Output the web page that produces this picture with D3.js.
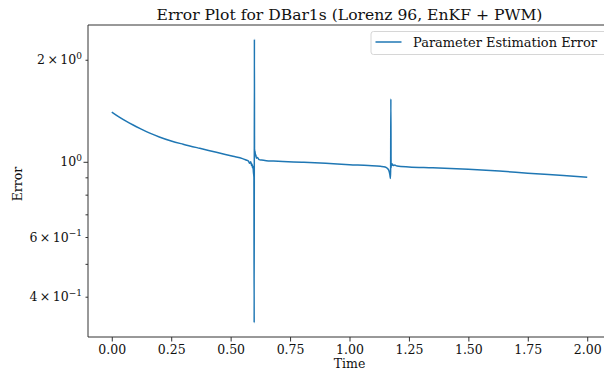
<!DOCTYPE html>
<html>
<head>
<meta charset="utf-8">
<script src="https://cdn.jsdelivr.net/npm/d3@7"></script>
<style>
  html, body { margin: 0; padding: 0; background: #fff; overflow: hidden; }
  svg { display: block; }
  text { font-family: "DejaVu Serif", serif; fill: #111; }
</style>
</head>
<body>
<svg id="chart" width="604" height="373"></svg>
<script>
// Parameter estimation error over time (log scale)
const times = [0.00, 0.03, 0.06, 0.09, 0.12, 0.16, 0.20, 0.25, 0.30, 0.37, 0.44, 0.51,
  0.55, 0.565, 0.575, 0.58, 0.585, 0.588, 0.59, 0.592, 0.594, 0.596, 0.598, 0.599, 0.600, 0.6005, 0.601,
  0.602, 0.603, 0.604, 0.606, 0.608, 0.612, 0.62, 0.63, 0.65, 0.68, 0.72, 0.80, 0.90, 1.00, 1.08, 1.13,
  1.15, 1.16, 1.165, 1.168, 1.170, 1.172, 1.173, 1.174, 1.175, 1.176, 1.178, 1.18, 1.185, 1.19, 1.20,
  1.25, 1.35, 1.50, 1.63, 1.75, 1.90, 2.00];
const errors = [1.402, 1.357, 1.318, 1.284, 1.253, 1.215, 1.184, 1.152, 1.127, 1.096, 1.067, 1.038,
  1.022, 1.012, 1.005, 0.99, 1.0, 0.975, 0.985, 0.96, 0.97, 0.93, 0.90, 0.335, 2.30, 1.04, 1.09,
  1.06, 1.075, 1.04, 1.05, 1.025, 1.03, 1.015, 1.012, 1.008, 1.005, 1.002, 0.997, 0.99, 0.981, 0.975, 0.97,
  0.965, 0.955, 0.945, 0.93, 0.915, 0.893, 0.94, 1.533, 0.96, 0.99, 0.975, 0.985, 0.975, 0.978, 0.972,
  0.966, 0.961, 0.951, 0.939, 0.926, 0.911, 0.901];

const xTicks = [0.00, 0.25, 0.50, 0.75, 1.00, 1.25, 1.50, 1.75, 2.00];
const yMajorTicks = [1];
const yMinorTicks = [0.4, 0.5, 0.6, 0.7, 0.8, 0.9, 2];
const yLabelled = [[2, "2", "0"], [1, "", "0"], [0.6, "6", "\u22121"], [0.4, "4", "\u22121"]];

const titleText = "Error Plot for DBar1s (Lorenz 96, EnKF + PWM)";
const seriesName = "Parameter Estimation Error";
const lineColor = "#1f77b4";

const svg = d3.select("#chart");
const plotL = 88, plotR = 611, plotT = 25, plotB = 337;
const tickFont = 12.5;

// shrink or grow a text element until it spans the given width
function fitWidth(sel, width) {
  const n = sel.node();
  const fs = parseFloat(sel.attr("font-size"));
  const w = n.getComputedTextLength();
  if (w > 0) sel.attr("font-size", (fs * width / w).toFixed(2));
  return sel;
}

// matplotlib-style 5% margins
const xPad = (d3.max(times) - d3.min(times)) * 0.05;
const x = d3.scaleLinear().domain([d3.min(times) - xPad, d3.max(times) + xPad]).range([plotL, plotR]);
const lmin = Math.log10(d3.min(errors)), lmax = Math.log10(d3.max(errors));
const lpad = (lmax - lmin) * 0.05;
const y = d3.scaleLog().domain([Math.pow(10, lmin - lpad), Math.pow(10, lmax + lpad)]).range([plotB, plotT]);

svg.append("defs").append("clipPath").attr("id", "clip")
  .append("rect").attr("x", plotL).attr("y", plotT).attr("width", plotR - plotL).attr("height", plotB - plotT);

// x axis
const xAxis = svg.append("g").attr("transform", `translate(0,${plotB})`)
  .call(d3.axisBottom(x).tickValues(xTicks).tickFormat(d3.format(".2f")).tickSizeOuter(0).tickSize(4.5).tickPadding(4));
xAxis.select(".domain").remove();
xAxis.selectAll("line").attr("stroke", "#333").attr("stroke-width", 1);
xAxis.selectAll("text").attr("font-size", tickFont).attr("font-family", "DejaVu Serif").attr("fill", "#111");

// y axis ticks
const yAxisMajor = svg.append("g").attr("transform", `translate(${plotL},0)`)
  .call(d3.axisLeft(y).tickValues(yMajorTicks).tickFormat("").tickSize(4.5).tickSizeOuter(0));
yAxisMajor.select(".domain").remove();
yAxisMajor.selectAll("line").attr("stroke", "#333").attr("stroke-width", 1);
const yAxisMinor = svg.append("g").attr("transform", `translate(${plotL},0)`)
  .call(d3.axisLeft(y).tickValues(yMinorTicks).tickFormat("").tickSize(2.5).tickSizeOuter(0));
yAxisMinor.select(".domain").remove();
yAxisMinor.selectAll("line").attr("stroke", "#333").attr("stroke-width", 1);

// y tick labels in scientific notation
yLabelled.forEach(([v, mant, exp]) => {
  const t = svg.append("text")
    .attr("x", plotL - 6)
    .attr("y", y(v) + 4.6)
    .attr("text-anchor", "end")
    .attr("font-size", tickFont);
  t.append("tspan").text(mant ? mant + "\u2009\u00d7\u200910" : "10");
  t.append("tspan").attr("dy", -5.5).attr("font-size", 9).text(exp);
});

// spines
const spine = (x1, y1, x2, y2) => svg.append("line")
  .attr("x1", x1).attr("y1", y1).attr("x2", x2).attr("y2", y2)
  .attr("stroke", "#333").attr("stroke-width", 1);
spine(plotL, plotT, plotL, plotB);
spine(plotL, plotB, plotR, plotB);
spine(plotL, plotT, plotR, plotT);
spine(plotR, plotT, plotR, plotB);

// error line
const line = d3.line().x((d, i) => x(times[i])).y(d => y(d)).curve(d3.curveMonotoneX);
svg.append("path")
  .datum(errors)
  .attr("clip-path", "url(#clip)")
  .attr("d", line)
  .attr("fill", "none")
  .attr("stroke", lineColor)
  .attr("stroke-width", 1.5)
  .attr("stroke-linejoin", "round");

// title and axis labels
const title = svg.append("text").attr("x", (plotL + plotR) / 2).attr("y", 20)
  .attr("text-anchor", "middle").attr("font-size", 15).text(titleText);
fitWidth(title, 386);
svg.append("text").attr("x", (plotL + plotR) / 2).attr("y", 368)
  .attr("text-anchor", "middle").attr("font-size", tickFont).text("Time");
svg.append("text").attr("transform", `translate(21.5,${(plotT + plotB) / 2 + 3}) rotate(-90)`)
  .attr("text-anchor", "middle").attr("font-size", tickFont).text("Error");

// legend
const lg = svg.append("g");
lg.append("rect").attr("x", 371).attr("y", 31.5).attr("width", 236).attr("height", 23)
  .attr("rx", 2.5).attr("fill", "#fff").attr("fill-opacity", 0.8)
  .attr("stroke", "#d6d6d6").attr("stroke-width", 1);
lg.append("line").attr("x1", 375.5).attr("x2", 401.5).attr("y1", 42).attr("y2", 42)
  .attr("stroke", lineColor).attr("stroke-width", 1.5);
const lgText = lg.append("text").attr("x", 413).attr("y", 46.5).attr("font-size", 12.5).text(seriesName);
fitWidth(lgText, 184);
</script>
</body>
</html>
